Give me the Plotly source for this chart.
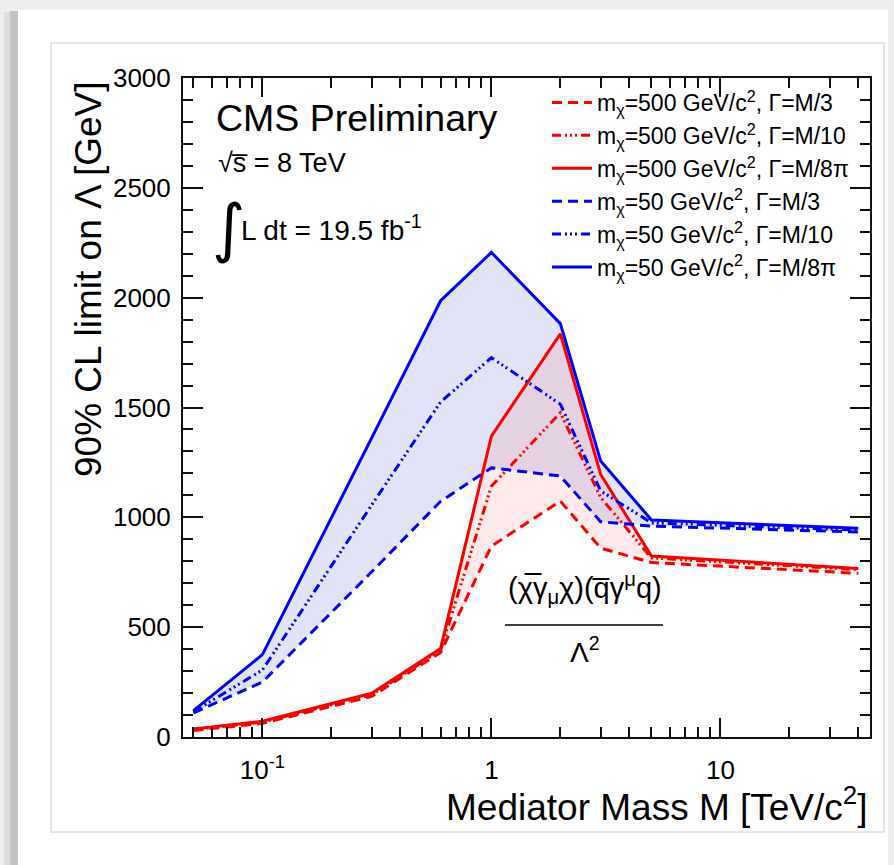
import plotly.graph_objects as go

# Mediator masses [TeV/c^2]
mass = [0.05, 0.1, 0.3, 0.6, 1, 2, 3, 5, 40]

# 90% CL lower limits on Lambda [GeV]
m500_w3 = [30, 62, 185, 385, 869, 1074, 860, 794, 745]
m500_w10 = [34, 68, 192, 395, 1142, 1476, 1090, 815, 762]
m500_w8pi = [36, 72, 199, 403, 1370, 1835, 1195, 824, 767]
m50_w3 = [110, 250, 752, 1073, 1225, 1188, 980, 960, 933]
m50_w10 = [115, 305, 1056, 1525, 1727, 1515, 1120, 975, 942]
m50_w8pi = [120, 375, 1362, 1986, 2206, 1882, 1256, 988, 950]

legend_names = [
    "m<sub>χ</sub>=500 GeV/c<sup>2</sup>, Γ=M/3",
    "m<sub>χ</sub>=500 GeV/c<sup>2</sup>, Γ=M/10",
    "m<sub>χ</sub>=500 GeV/c<sup>2</sup>, Γ=M/8π",
    "m<sub>χ</sub>=50 GeV/c<sup>2</sup>, Γ=M/3",
    "m<sub>χ</sub>=50 GeV/c<sup>2</sup>, Γ=M/10",
    "m<sub>χ</sub>=50 GeV/c<sup>2</sup>, Γ=M/8π",
]

x_tickvals = [0.1, 1, 10]
x_ticktext = ["10<sup>-1</sup>", "1", "10"]

W, H = 894, 865
L, R, T, B = 183, 24, 78, 128
PW, PH = W - L - R, H - T - B


def px(x):
    return (x - L) / PW


def py(y):
    return (H - B - y) / PH


RED = "#ff0000"
BLUE = "#0000ff"
DASH = "10px,6px"
DASHDOT3 = "9px,4px,2px,3px,2px,3px,2px,4px"
FONT = "Liberation Sans, Arial, sans-serif"

fig = go.Figure()

# shaded bands between widest and narrowest width hypotheses
fig.add_trace(go.Scatter(
    x=mass + mass[::-1], y=m50_w8pi + m50_w3[::-1],
    fill="toself", fillcolor="rgba(60,70,200,0.15)",
    line=dict(width=0), mode="lines", showlegend=False, hoverinfo="skip"))
fig.add_trace(go.Scatter(
    x=mass + mass[::-1], y=m500_w8pi + m500_w3[::-1],
    fill="toself", fillcolor="rgba(245,60,60,0.11)",
    line=dict(width=0), mode="lines", showlegend=False, hoverinfo="skip"))

series = [
    (m500_w3, RED, DASH),
    (m500_w10, RED, DASHDOT3),
    (m500_w8pi, RED, "solid"),
    (m50_w3, BLUE, DASH),
    (m50_w10, BLUE, DASHDOT3),
    (m50_w8pi, BLUE, "solid"),
]
for i, (vals, col, dash) in enumerate(series):
    fig.add_trace(go.Scatter(
        x=mass, y=vals, mode="lines", name=legend_names[i],
        legendgroup=f"g{i}",
        line=dict(color=col, width=3, dash=dash)))

minor_x = [0.05, 0.06, 0.07, 0.08, 0.09, 0.2, 0.3, 0.4, 0.5, 0.6, 0.7, 0.8, 0.9,
           2, 3, 4, 5, 6, 7, 8, 9, 20, 30, 40]

axis_common = dict(
    showline=True, linecolor="#111", linewidth=2, mirror="allticks",
    ticks="inside", tickcolor="#111", tickwidth=1.5,
    showgrid=False, zeroline=False,
    tickfont=dict(family=FONT, size=26, color="#000"),
)

fig.update_xaxes(
    type="log", range=[-1.3468, 1.6532],
    tickmode="array", tickvals=x_tickvals, ticktext=x_ticktext,
    ticklen=19, ticklabelstandoff=9,
    minor=dict(tickmode="array", tickvals=minor_x, ticklen=10,
               ticks="inside", tickcolor="#111", tickwidth=1.5, showgrid=False),
    **axis_common)
fig.update_yaxes(
    range=[0, 3000], dtick=500, tick0=0, ticklen=20, ticklabelstandoff=5,
    minor=dict(dtick=100, ticklen=10, ticks="inside", tickcolor="#111",
               tickwidth=1.5, showgrid=False),
    **axis_common)

shapes = [
    # page card with soft drop shadow
    dict(type="rect", xref="paper", yref="paper", x0=px(4), x1=px(11),
         y0=py(H), y1=py(12), fillcolor="#dedede", line_width=0, layer="below"),
    dict(type="rect", xref="paper", yref="paper", x0=px(10), x1=px(18),
         y0=py(H), y1=py(11), fillcolor="#c4c4c4", line_width=0, layer="below"),
    dict(type="rect", xref="paper", yref="paper", x0=px(18), x1=px(888),
         y0=py(H), y1=py(10), fillcolor="#ffffff", line_width=0, layer="below"),
    dict(type="rect", xref="paper", yref="paper", x0=px(51), x1=px(884),
         y0=py(832), y1=py(43), line=dict(color="#dcdcdc", width=1.5),
         layer="below"),
    # fraction bar of the operator
    dict(type="line", xref="paper", yref="paper", x0=px(505), x1=px(663),
         y0=py(625), y1=py(625), line=dict(color="#000", width=1.5)),
]

annotations = [
    dict(text="CMS Preliminary", x=px(214), y=py(118), xanchor="left",
         yanchor="middle", font=dict(size=37.5)),
    dict(text="√s\u0305 = 8 TeV", x=px(216), y=py(163), xanchor="left",
         yanchor="middle", font=dict(size=27)),
    dict(text="∫", x=px(210), y=py(228), xanchor="left", yanchor="middle",
         font=dict(size=64, family="DejaVu Sans")),
    dict(text="L dt = 19.5 fb<sup>-1</sup>", x=px(239), y=py(228),
         xanchor="left", yanchor="middle", font=dict(size=28)),
    dict(text="(χ\u0305γ<sub>μ</sub>χ)(q\u0305γ<sup>μ</sup>q)", x=px(585),
         y=py(588), xanchor="center", yanchor="middle", font=dict(size=29)),
    dict(text="Λ<sup>2</sup>", x=px(585), y=py(650), xanchor="center",
         yanchor="middle", font=dict(size=28)),
    dict(text="Mediator Mass M [TeV/c<sup>2</sup>]", x=px(870), y=py(804),
         xanchor="right", yanchor="middle", font=dict(size=37)),
    dict(text="90% CL limit on Λ [GeV]", x=px(88), y=py(279), textangle=-90,
         xanchor="center", yanchor="middle", font=dict(size=37)),
]
for a in annotations:
    a.update(xref="paper", yref="paper", showarrow=False)
    a["font"].setdefault("family", FONT)
    a["font"].setdefault("color", "#000")

fig.update_layout(
    width=W, height=H,
    margin=dict(l=L, r=R, t=T, b=B),
    paper_bgcolor="#eeeeee", plot_bgcolor="#ffffff",
    font=dict(family=FONT, color="#000"),
    shapes=shapes, annotations=annotations,
    legend=dict(x=px(547), y=py(81), xanchor="left", yanchor="top",
                bgcolor="rgba(0,0,0,0)", font=dict(family=FONT, size=23),
                tracegroupgap=0, itemwidth=40),
)

fig.write_html("out.html")
